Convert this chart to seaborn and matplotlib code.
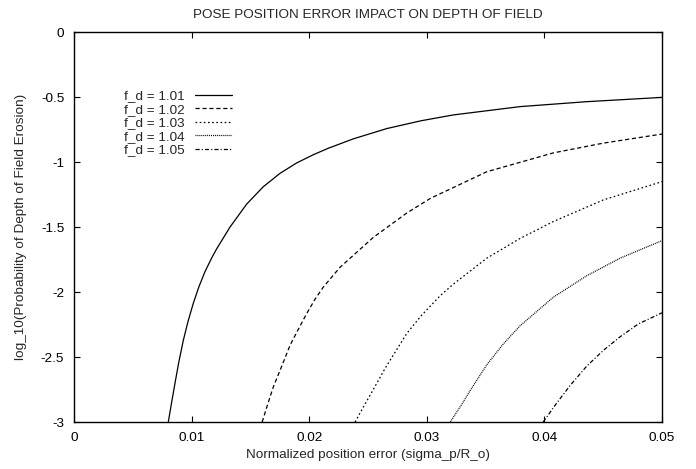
import matplotlib
matplotlib.use("Agg")
import matplotlib.pyplot as plt
import pandas as pd
import seaborn as sns
from matplotlib.ticker import FuncFormatter

# values (x = sigma_p/R_o, y = log10 probability)
x_101 = [0.00802, 0.0083, 0.00859, 0.0089, 0.0093, 0.0097, 0.01015, 0.0106, 0.01114,
         0.01171, 0.01213, 0.01327, 0.01469, 0.0161, 0.01752, 0.01894, 0.02035, 0.02163,
         0.02375, 0.02659, 0.0295, 0.03225, 0.03793, 0.0436, 0.05]
y_101 = [-3.0, -2.85, -2.70, -2.545, -2.37, -2.225, -2.085, -1.965, -1.843,
         -1.738, -1.668, -1.500, -1.323, -1.190, -1.087, -1.007, -0.944, -0.894,
         -0.822, -0.743, -0.683, -0.638, -0.574, -0.536, -0.503]

x_102 = [0.0160, 0.0165, 0.01695, 0.0176, 0.01837, 0.0190, 0.01979, 0.0205, 0.0212,
         0.02262, 0.02545, 0.02829, 0.0303, 0.0351, 0.04076, 0.045, 0.05]
y_102 = [-3.0, -2.855, -2.73, -2.585, -2.41, -2.30, -2.165, -2.055, -1.962,
         -1.81, -1.58, -1.393, -1.28, -1.075, -0.93, -0.855, -0.785]

x_103 = [0.0239, 0.0247, 0.02545, 0.0265, 0.02829, 0.0295, 0.03112, 0.03225, 0.0351,
         0.03793, 0.04076, 0.045, 0.05]
y_103 = [-3.0, -2.87, -2.75, -2.58, -2.32, -2.185, -2.03, -1.94, -1.74,
         -1.588, -1.458, -1.292, -1.151]

x_104 = [0.0320, 0.0330, 0.03367, 0.0351, 0.0365, 0.03793, 0.04076, 0.0436, 0.04643, 0.05]
y_104 = [-3.0, -2.86, -2.76, -2.56, -2.40, -2.26, -2.04, -1.875, -1.74, -1.605]

x_105 = [0.0399, 0.0410, 0.04218, 0.0436, 0.045, 0.04643, 0.048, 0.05]
y_105 = [-3.0, -2.86, -2.72, -2.57, -2.45, -2.345, -2.245, -2.16]

labels = ["f_d = 1.01", "f_d = 1.02", "f_d = 1.03", "f_d = 1.04", "f_d = 1.05"]
xs = [x_101, x_102, x_103, x_104, x_105]
ys = [y_101, y_102, y_103, y_104, y_105]
dash_styles = ["-", (0, (3, 2)), (0, (1.2, 1.8)), (0, (0.7, 0.7)), (0, (3, 1.5, 0.8, 1.5))]

sns.set_style("ticks")
plt.rcParams["font.family"] = ["Liberation Sans", "DejaVu Sans"]
plt.rcParams["lines.scale_dashes"] = False
fs = 9.7

fig = plt.figure(figsize=(6.96, 4.69), dpi=100)
ax = fig.add_axes([74 / 696, 1 - 422 / 469, (662 - 74) / 696, (422 - 32) / 469])

for x, y, lab, ls in zip(xs, ys, labels, dash_styles):
    df = pd.DataFrame({"x": x, "y": y})
    sns.lineplot(x="x", y="y", data=df, ax=ax, color="black", linewidth=0.9,
                 linestyle=ls, label=lab, estimator=None, sort=True)

ax.set_xlim(0, 0.05)
ax.set_ylim(-3, 0)
ax.set_xticks([0, 0.01, 0.02, 0.03, 0.04, 0.05])
ax.set_yticks([0, -0.5, -1, -1.5, -2, -2.5, -3])
fmt = FuncFormatter(lambda v, p: "%g" % round(v, 4))
ax.xaxis.set_major_formatter(fmt)
ax.yaxis.set_major_formatter(fmt)
ax.tick_params(direction="in", length=4, width=0.8, top=True, right=True,
               labelsize=fs, colors="black")
ax.tick_params(axis="x", pad=7.5)
ax.tick_params(axis="y", pad=7)
for sp in ax.spines.values():
    sp.set_visible(True)
    sp.set_linewidth(1.0)
    sp.set_color("black")

ax.set_title("POSE POSITION ERROR IMPACT ON DEPTH OF FIELD", fontsize=fs, pad=10)
ax.set_xlabel("Normalized position error (sigma_p/R_o)", fontsize=fs, labelpad=3)
ax.set_ylabel("log_10(Probability of Depth of Field Erosion)", fontsize=fs, labelpad=10)

ax.legend(loc="upper left", bbox_to_anchor=(124 / 696, 1 - 90 / 469),
          bbox_transform=fig.transFigure, frameon=False, markerfirst=False,
          fontsize=fs, handlelength=2.75, handletextpad=0.73, labelspacing=0.08,
          borderpad=0, borderaxespad=0)

fig.savefig("out.png", dpi=100)
